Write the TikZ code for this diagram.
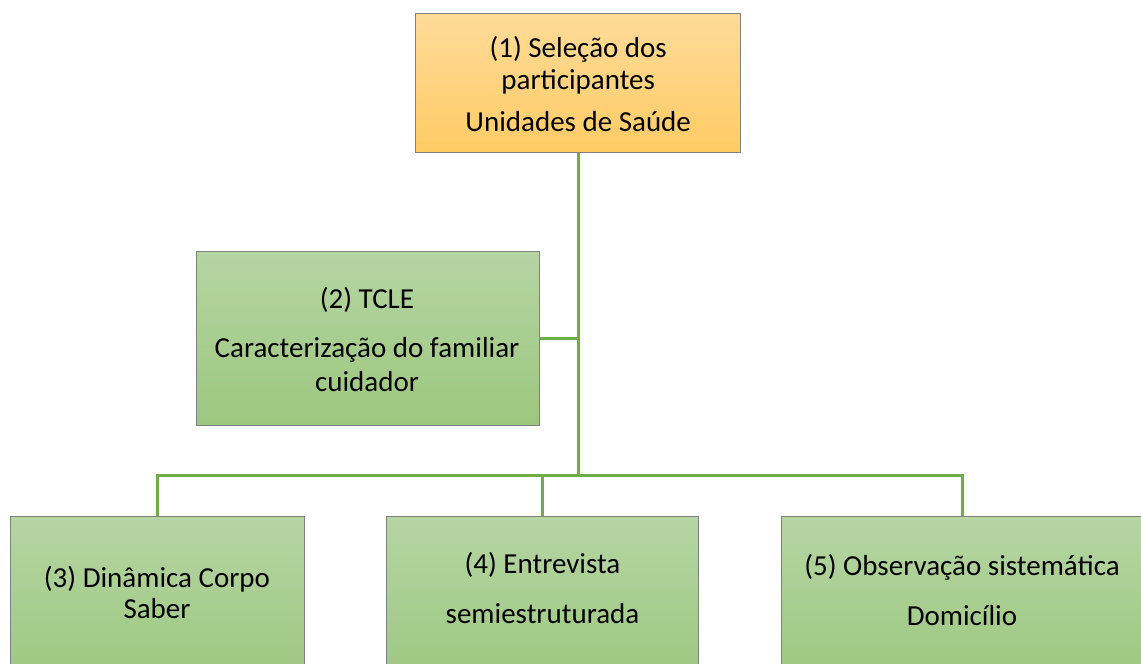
\documentclass[tikz,border=0pt]{standalone}
\usepackage{fontspec}
\setmainfont{Carlito}
\definecolor{linegreen}{RGB}{112,173,71}
\definecolor{boxedge}{RGB}{128,128,128}
\definecolor{ortop}{RGB}{255,219,153}
\definecolor{orbot}{RGB}{255,203,100}
\definecolor{grtop}{RGB}{181,213,163}
\definecolor{grbot}{RGB}{157,199,127}
\tikzset{
  boxbase/.style={rectangle, draw=boxedge, line width=0.8pt, inner sep=0pt},
  obox/.style={boxbase, top color=ortop, bottom color=orbot},
  gbox/.style={boxbase, top color=grtop, bottom color=grbot},
  conn/.style={draw=linegreen, line width=3pt},
  txt/.style={inner sep=0pt, anchor=base, font=\fontsize{29}{35}\selectfont, text=black}
}
\begin{document}
\begin{tikzpicture}[x=1pt,y=-1pt]
\useasboundingbox (0,0) rectangle (1141,664);
\fill[white] (0,0) rectangle (1141,664);
\clip (0,0) rectangle (1141,664);
% boxes
\node[obox, minimum width=325pt, minimum height=139pt] (b1) at (578.2,83.3) {};
\node[gbox, minimum width=342.6pt, minimum height=174pt] (b2) at (368,338) {};
\node[gbox, minimum width=294pt, minimum height=170pt] (b3) at (157,601.7) {};
\node[gbox, minimum width=311.6pt, minimum height=170pt] (b4) at (542.5,601.7) {};
\node[gbox, minimum width=362pt, minimum height=170pt] (b5) at (962,601.7) {};
% connectors
\coordinate (bar) at (578.2,475);
\draw[conn] (b1.south) -- (bar);
\draw[conn] (b2.east) -- (b2.east -| bar);
\draw[conn] (b3.north) |- (b5.north |- bar) -- (b5.north);
\draw[conn] (b4.north) -- (b4.north |- bar);
% texts
\node[txt] (t1a) at (578.2,57) {(1) Seleção dos};
\node[txt] (t1b) at (578.2,89) {participantes};
\node[txt] (t1c) at (578.2,131) {Unidades de Saúde};
\node[txt] (t2a) at (367,308) {(2) TCLE};
\node[txt] (t2b) at (367,357) {Caracterização do familiar};
\node[txt] (t2c) at (367,391) {cuidador};
\node[txt] (t3a) at (157,587) {(3) Dinâmica Corpo};
\node[txt] (t3b) at (157,618) {Saber};
\node[txt] (t4a) at (542.5,573) {(4) Entrevista};
\node[txt] (t4b) at (542.5,623) {semiestruturada};
\node[txt] (t5a) at (962,575) {(5) Observação sistemática};
\node[txt] (t5b) at (962,625) {Domicílio};
\end{tikzpicture}
\end{document}
